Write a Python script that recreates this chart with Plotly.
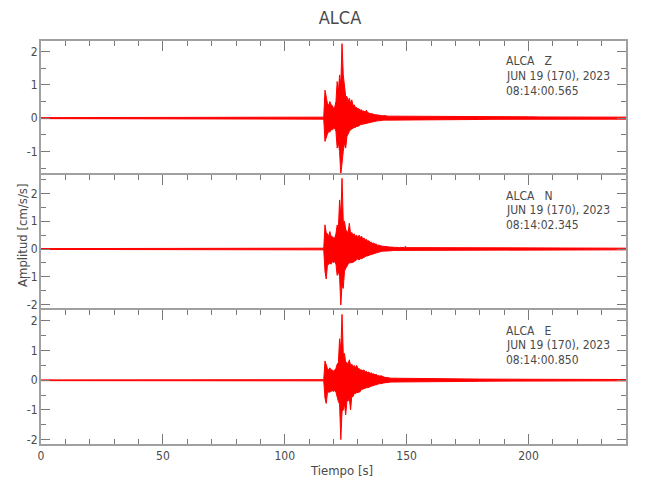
import plotly.graph_objects as go

# ---------------- data ----------------
station = "ALCA"
components = ["Z", "N", "E"]
date_label = "JUN 19 (170), 2023"
start_times = ["08:14:00.565", "08:14:02.345", "08:14:00.850"]
x_title = "Tiempo [s]"
y_title = "Amplitud [cm/s/s]"
x_tick_vals = [0, 50, 100, 150, 200]
y_tick_vals = [-2, -1, 0, 1, 2]
y_tick_text = ["-2", "-1", "0", "1", "2"]

# sample times (s) of the envelope
t_pre = [0, 115]
event_start, event_step = 115.5, 0.5          # 70 samples, 115.5 .. 150
t_tail = [155, 160, 165, 170, 175, 180, 185, 190, 195, 200,
          205, 210, 215, 220, 225, 230, 235, 240]

# ---- Z: upper / lower envelope (cm/s/s) ----
z_pre_up, z_pre_lo = [0.015, 0.015], [-0.015, -0.015]
z_ev_up = [0.02, 0.03, 0.84, 0.60, 0.45, 0.38, 0.50, 0.40, 0.38, 0.30,
           0.33, 0.50, 1.10, 0.80, 1.30, 1.00, 2.24, 1.30, 0.90, 0.65,
           0.65, 0.50, 0.60, 0.45, 0.55, 0.38, 0.40, 0.32, 0.32, 0.28,
           0.28, 0.24, 0.25, 0.20, 0.22, 0.18, 0.24, 0.16, 0.16, 0.13,
           0.14, 0.12, 0.12, 0.10, 0.10, 0.09, 0.10, 0.08, 0.08, 0.07,
           0.08, 0.07, 0.07, 0.06, 0.06, 0.06, 0.06, 0.05, 0.05, 0.05,
           0.06, 0.05, 0.05, 0.05, 0.05, 0.05, 0.05, 0.05, 0.05, 0.05]
z_ev_lo = [-0.02, -0.03, -0.70, -0.55, -0.48, -0.40, -0.42, -0.35, -0.35, -0.32,
           -0.30, -0.40, -0.90, -0.75, -1.00, -1.70, -1.20, -1.00, -0.75, -0.90,
           -0.55, -0.45, -0.40, -0.35, -0.32, -0.30, -0.28, -0.28, -0.25, -0.25,
           -0.22, -0.20, -0.19, -0.18, -0.17, -0.16, -0.15, -0.14, -0.13, -0.12,
           -0.11, -0.10, -0.10, -0.09, -0.08, -0.08, -0.08, -0.07, -0.07, -0.07,
           -0.06, -0.06, -0.06, -0.06, -0.05, -0.05, -0.05, -0.05, -0.05, -0.05,
           -0.04, -0.04, -0.04, -0.04, -0.04, -0.04, -0.04, -0.04, -0.04, -0.04]
z_tail_up = [0.06, 0.06, 0.05, 0.05, 0.045, 0.045, 0.04, 0.04, 0.04, 0.04,
             0.035, 0.035, 0.035, 0.035, 0.03, 0.03, 0.03, 0.03]
z_tail_lo = [-0.05, -0.05, -0.045, -0.045, -0.04, -0.04, -0.035, -0.035, -0.035, -0.035,
             -0.03, -0.03, -0.03, -0.03, -0.03, -0.03, -0.03, -0.03]

# ---- N ----
n_pre_up, n_pre_lo = [0.015, 0.015], [-0.015, -0.015]
n_ev_up = [0.02, 0.03, 0.87, 0.60, 0.55, 0.45, 0.63, 0.45, 0.45, 0.40,
           0.40, 0.55, 0.87, 0.75, 1.77, 1.20, 2.55, 1.00, 1.00, 0.70,
           0.63, 0.60, 0.93, 0.55, 0.60, 0.50, 0.55, 0.45, 0.50, 0.40,
           0.50, 0.40, 0.47, 0.35, 0.40, 0.32, 0.35, 0.28, 0.30, 0.24,
           0.25, 0.20, 0.22, 0.17, 0.18, 0.14, 0.14, 0.12, 0.12, 0.10,
           0.10, 0.09, 0.08, 0.08, 0.07, 0.07, 0.07, 0.06, 0.06, 0.06,
           0.06, 0.05, 0.05, 0.05, 0.06, 0.05, 0.05, 0.05, 0.10, 0.05]
n_ev_lo = [-0.02, -0.03, -0.80, -1.08, -0.60, -0.55, -0.50, -0.55, -0.45, -0.50,
           -0.45, -0.55, -0.95, -0.80, -1.00, -2.02, -1.30, -1.42, -0.80, -0.70,
           -0.60, -0.55, -0.50, -0.50, -0.50, -0.48, -0.45, -0.42, -0.38, -0.35,
           -0.40, -0.35, -0.35, -0.32, -0.30, -0.28, -0.25, -0.25, -0.22, -0.21,
           -0.20, -0.18, -0.16, -0.15, -0.14, -0.13, -0.11, -0.10, -0.09, -0.08,
           -0.08, -0.08, -0.07, -0.07, -0.06, -0.06, -0.06, -0.06, -0.05, -0.05,
           -0.05, -0.05, -0.05, -0.05, -0.04, -0.04, -0.04, -0.04, -0.04, -0.04]
n_tail_up = [0.05, 0.05, 0.045, 0.045, 0.045, 0.04, 0.045, 0.05, 0.05, 0.05,
             0.05, 0.045, 0.045, 0.04, 0.04, 0.035, 0.035, 0.03]
n_tail_lo = [-0.045, -0.045, -0.04, -0.04, -0.04, -0.035, -0.04, -0.04, -0.045, -0.045,
             -0.04, -0.04, -0.04, -0.035, -0.035, -0.03, -0.03, -0.03]

# ---- E ----
e_pre_up, e_pre_lo = [0.013, 0.013], [-0.013, -0.013]
e_ev_up = [0.02, 0.02, 0.65, 0.50, 0.40, 0.35, 0.42, 0.35, 0.35, 0.30,
           0.35, 0.40, 0.54, 0.60, 1.40, 1.00, 2.22, 0.90, 0.90, 0.60,
           0.60, 0.55, 0.69, 0.50, 0.55, 0.45, 0.50, 0.42, 0.50, 0.40,
           0.40, 0.35, 0.35, 0.32, 0.35, 0.28, 0.30, 0.26, 0.28, 0.23,
           0.25, 0.21, 0.22, 0.18, 0.20, 0.16, 0.16, 0.14, 0.15, 0.12,
           0.12, 0.10, 0.10, 0.09, 0.08, 0.08, 0.07, 0.07, 0.06, 0.06,
           0.06, 0.05, 0.05, 0.05, 0.05, 0.05, 0.05, 0.05, 0.05, 0.05]
e_ev_lo = [-0.02, -0.02, -0.60, -0.78, -0.44, -0.40, -0.40, -0.38, -0.35, -0.38,
           -0.35, -0.40, -0.60, -0.72, -0.80, -2.00, -1.06, -1.00, -0.80, -1.17,
           -0.70, -0.70, -0.60, -1.00, -0.55, -0.55, -0.45, -0.45, -0.42, -0.42,
           -0.40, -0.38, -0.30, -0.30, -0.28, -0.28, -0.25, -0.25, -0.22, -0.22,
           -0.20, -0.18, -0.16, -0.16, -0.15, -0.15, -0.12, -0.12, -0.11, -0.11,
           -0.09, -0.09, -0.08, -0.08, -0.07, -0.07, -0.06, -0.06, -0.05, -0.05,
           -0.05, -0.05, -0.05, -0.05, -0.05, -0.04, -0.04, -0.04, -0.04, -0.04]
e_tail_up = [0.07, 0.07, 0.06, 0.05, 0.045, 0.04, 0.035, 0.035, 0.03, 0.03,
             0.03, 0.03, 0.03, 0.03, 0.03, 0.025, 0.025, 0.025]
e_tail_lo = [-0.06, -0.06, -0.05, -0.04, -0.04, -0.035, -0.03, -0.03, -0.025, -0.025,
             -0.025, -0.025, -0.025, -0.025, -0.025, -0.02, -0.02, -0.02]

y_ranges = [[-1.71, 2.32], [-2.20, 2.67], [-2.15, 2.37]]
x_range = [0, 240]

envelopes = [
    (z_pre_up, z_ev_up, z_tail_up, z_pre_lo, z_ev_lo, z_tail_lo),
    (n_pre_up, n_ev_up, n_tail_up, n_pre_lo, n_ev_lo, n_tail_lo),
    (e_pre_up, e_ev_up, e_tail_up, e_pre_lo, e_ev_lo, e_tail_lo),
]

# ---------------- figure ----------------
FONT = "Liberation Sans Narrow, DejaVu Sans Condensed, Arial Narrow, sans-serif"
TXT = "#4a4a4a"
AXC = "#a0a0a0"
TKC = "#7a7a7a"
RED = "#ff0000"
OFF = 8                      # page body margin of the browser
W, H = 650 - OFF, 500 - OFF
scr_left, scr_right, scr_top, scr_bot = 41, 626, 41, 444
ml, mt = scr_left - OFF, scr_top - OFF
mr, mb = W - (scr_right - OFF), H - (scr_bot - OFF)
plot_w, plot_h = W - ml - mr, H - mt - mb
edges_scr = [41, 175, 310, 444]   # panel borders on screen (top -> bottom)


def ypaper(scr_y):
    return (scr_bot - scr_y) / plot_h


def xpaper(scr_x):
    return (scr_x - scr_left) / plot_w


fig = go.Figure()
for i, (pu, eu, tu, pl, el, tlo) in enumerate(envelopes):
    t = list(t_pre) + [event_start + event_step * k for k in range(len(eu))] + list(t_tail)
    up = list(pu) + list(eu) + list(tu)
    lo = list(pl) + list(el) + list(tlo)
    sfx = "" if i == 0 else str(i + 1)
    fig.add_trace(go.Scatter(x=t, y=up, mode="lines", line=dict(color=RED, width=1),
                             xaxis="x" + sfx, yaxis="y" + sfx, showlegend=False,
                             hoverinfo="skip"))
    fig.add_trace(go.Scatter(x=t, y=lo, mode="lines", line=dict(color=RED, width=1),
                             fill="tonexty", fillcolor=RED,
                             xaxis="x" + sfx, yaxis="y" + sfx, showlegend=False,
                             hoverinfo="skip"))

layout = dict(
    width=W, height=H, margin=dict(l=ml, r=mr, t=mt, b=mb),
    paper_bgcolor="white", plot_bgcolor="white",
    font=dict(family=FONT, color=TXT, size=12),
    title=dict(text=station, x=(340 - OFF) / W, xanchor="center",
               y=1 - (18 - OFF) / H, yanchor="middle", yref="container",
               font=dict(size=18, color=TXT, family=FONT)),
)

annotations = []
for i in range(3):
    sfx = "" if i == 0 else str(i + 1)
    top_s, bot_s = edges_scr[i], edges_scr[i + 1]
    last = i == 2
    layout["xaxis" + sfx] = dict(
        range=x_range, anchor="y" + sfx, domain=[0, 1],
        side="bottom" if last else "top",
        showticklabels=last, tickvals=x_tick_vals,
        ticks="inside", ticklen=10, tickwidth=1, tickcolor=TKC,
        minor=dict(dtick=10, tick0=0, ticks="inside", ticklen=5, tickwidth=1, tickcolor=TKC),
        showline=True, linecolor=AXC, linewidth=2,
        mirror="ticks" if last else False,
        showgrid=False, zeroline=False,
        tickfont=dict(size=12, color=TXT, family=FONT),
    )
    layout["yaxis" + sfx] = dict(
        range=y_ranges[i], anchor="x" + sfx, domain=[ypaper(bot_s), ypaper(top_s)],
        tickmode="array", tickvals=y_tick_vals, ticktext=y_tick_text,
        ticks="inside", ticklen=9, tickwidth=1, tickcolor=TKC,
        minor=dict(tickmode="linear", tick0=0, dtick=0.5, ticks="inside", ticklen=5,
                   tickwidth=1, tickcolor=TKC),
        showline=True, linecolor=AXC, linewidth=2, mirror="ticks",
        showgrid=False, zeroline=False, ticklabelstandoff=-1,
        tickfont=dict(size=12, color=TXT, family=FONT),
    )
    lines = [f"{station}   {components[i]}", date_label, start_times[i]]
    for j, txt in enumerate(lines):
        annotations.append(dict(
            text=txt, xref="paper", yref="paper", x=xpaper(504),
            y=ypaper(top_s + 20.5 + 14.8 * j), xanchor="left", yanchor="middle",
            showarrow=False, font=dict(size=12, color=TXT, family=FONT)))

annotations.append(dict(text=x_title, xref="paper", yref="paper", x=xpaper(341), y=ypaper(470),
                        xanchor="center", yanchor="middle", showarrow=False,
                        font=dict(size=13, color=TXT, family=FONT)))
annotations.append(dict(text=y_title, xref="paper", yref="paper", x=xpaper(22),
                        y=ypaper(236), xanchor="center", yanchor="middle", textangle=-90,
                        showarrow=False, font=dict(size=13, color=TXT, family=FONT)))
layout["annotations"] = annotations

fig.update_layout(**layout)
fig.write_html("out.html")
